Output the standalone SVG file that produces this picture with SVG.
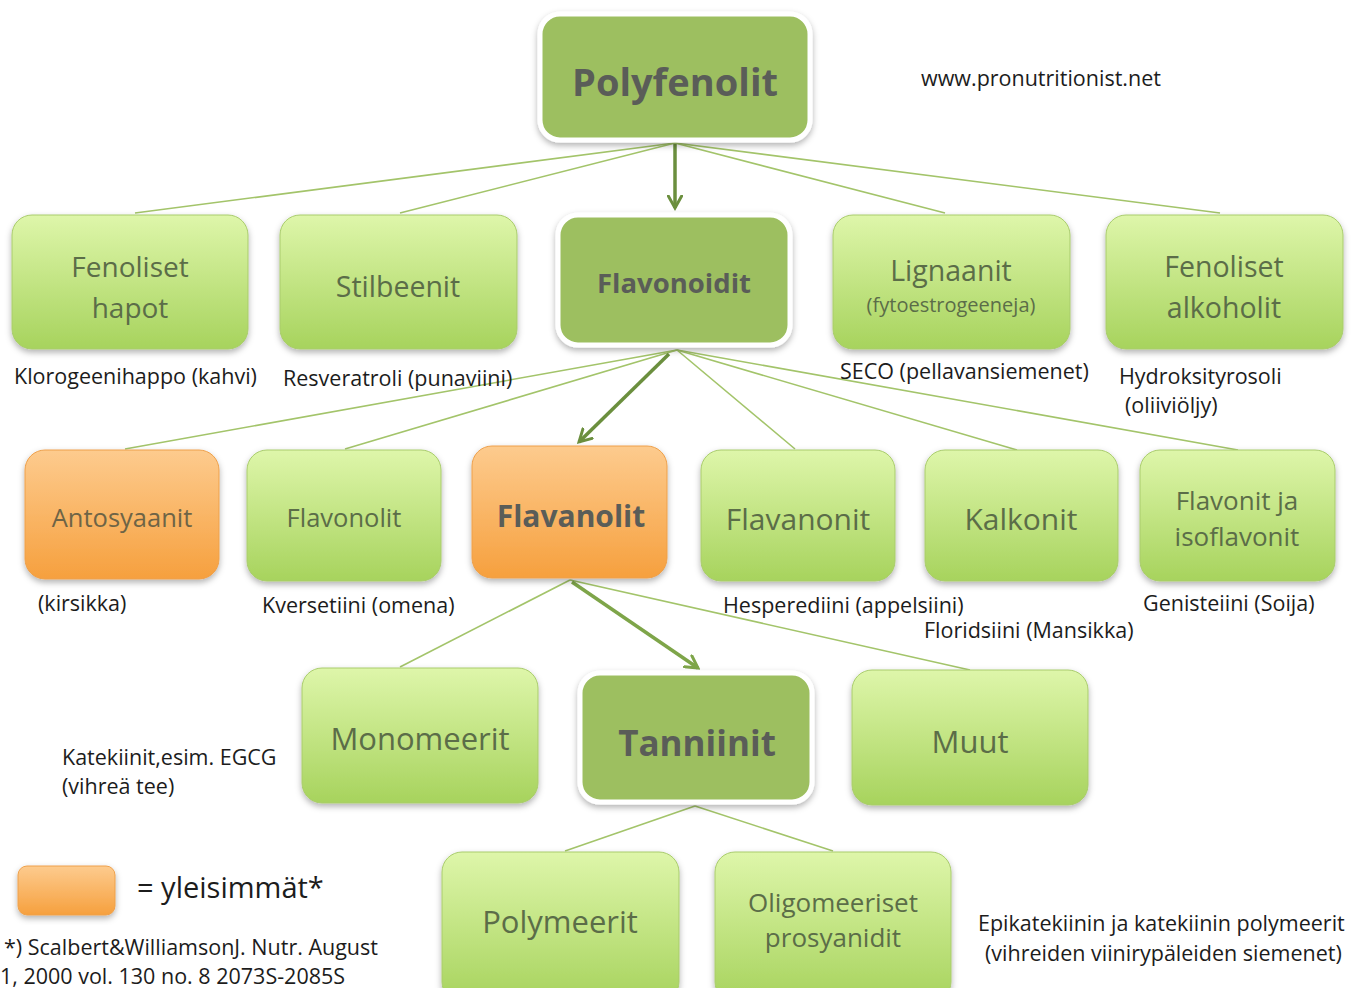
<svg xmlns="http://www.w3.org/2000/svg" width="1357" height="988" viewBox="0 0 1357 988">
<defs>
<linearGradient id="gLight" x1="0" y1="0" x2="0" y2="1">
<stop offset="0" stop-color="#def6aa"/>
<stop offset="1" stop-color="#a7d35d"/>
</linearGradient>
<linearGradient id="gOrange" x1="0" y1="0" x2="0" y2="1">
<stop offset="0" stop-color="#fdcb8e"/>
<stop offset="1" stop-color="#f6a03e"/>
</linearGradient>
<filter id="sh" x="-10%" y="-10%" width="120%" height="130%">
<feDropShadow dx="0" dy="3" stdDeviation="3" flood-color="#000" flood-opacity="0.3"/>
</filter>
<marker id="arr" viewBox="0 0 12 12" refX="10" refY="6" markerWidth="16" markerHeight="16" markerUnits="userSpaceOnUse" orient="auto">
<path d="M1,1 L10,6 L1,11" fill="none" stroke="#6b8f3e" stroke-width="2.2" stroke-linecap="round"/>
</marker>
<marker id="arr2" viewBox="0 0 12 12" refX="10" refY="6" markerWidth="16" markerHeight="16" markerUnits="userSpaceOnUse" orient="auto">
<path d="M1,1 L10,6 L1,11" fill="none" stroke="#7ea549" stroke-width="2.2" stroke-linecap="round"/>
</marker>
</defs>
<style>
.light{fill:url(#gLight);stroke:#a9cc6c;stroke-width:1;filter:url(#sh)}
.orange{fill:url(#gOrange);stroke:#eea04a;stroke-width:1;filter:url(#sh)}
.dark{fill:#9dbf60;stroke:#ffffff;stroke-width:5;filter:url(#sh)}
.lt{font-family:"Open Sans","Noto Sans","DejaVu Sans",sans-serif;fill:#5b6d48;text-anchor:middle}
.bt{font-family:"Open Sans","Noto Sans","DejaVu Sans",sans-serif;font-weight:bold;fill:#5a5d58;text-anchor:middle}
.ot{font-family:"Open Sans","Noto Sans","DejaVu Sans",sans-serif;fill:#6e6446;text-anchor:middle}
.ann{font-family:"Open Sans","Noto Sans","DejaVu Sans",sans-serif;font-size:21.5px;fill:#1c1c1c}
.con{stroke:#a3c46a;stroke-width:1.6;fill:none}
.arrow{stroke:#6b8f3e;stroke-width:3.5;fill:none;marker-end:url(#arr)}
.arrow2{stroke:#7ea549;stroke-width:3.5;fill:none;marker-end:url(#arr2)}
</style>
<rect width="1357" height="988" fill="#ffffff"/>

<g id="connectors">
<line class="con" x1="675" y1="143" x2="135" y2="213"/>
<line class="con" x1="675" y1="143" x2="400" y2="213"/>
<line class="con" x1="675" y1="143" x2="945" y2="213"/>
<line class="con" x1="675" y1="143" x2="1220" y2="213"/>
<line class="arrow" x1="675" y1="144" x2="675" y2="208"/>
<line class="con" x1="677" y1="350" x2="125" y2="449"/>
<line class="con" x1="677" y1="350" x2="345" y2="449"/>
<line class="con" x1="677" y1="350" x2="795" y2="449"/>
<line class="con" x1="677" y1="350" x2="1017" y2="450"/>
<line class="con" x1="677" y1="350" x2="1238" y2="450"/>
<line class="arrow" x1="669" y1="354" x2="579" y2="442"/>
<line class="con" x1="570" y1="580" x2="400" y2="667"/>
<line class="con" x1="570" y1="580" x2="970" y2="670"/>
<line class="arrow2" x1="572" y1="582" x2="698" y2="668"/>
<line class="con" x1="695" y1="806" x2="565" y2="851"/>
<line class="con" x1="695" y1="806" x2="833" y2="851"/>
</g>

<g id="polyfenolit">
<rect class="dark" x="540" y="14" width="270" height="126" rx="20"/>
<text class="bt" x="675" y="96" font-size="38">Polyfenolit</text>
</g>

<g id="fenoliset-hapot">
<rect class="light" x="12" y="215" width="236" height="134" rx="20"/>
<text class="lt" x="130" y="277" font-size="28">Fenoliset</text>
<text class="lt" x="130" y="318" font-size="28">hapot</text>
</g>
<g id="stilbeenit">
<rect class="light" x="280" y="215" width="237" height="134" rx="20"/>
<text class="lt" x="398" y="297" font-size="28.5">Stilbeenit</text>
</g>
<g id="flavonoidit">
<rect class="dark" x="558" y="215" width="232" height="130" rx="20"/>
<text class="bt" x="674" y="293" font-size="27.5">Flavonoidit</text>
</g>
<g id="lignaanit">
<rect class="light" x="833" y="215" width="237" height="134" rx="20"/>
<text class="lt" x="951" y="281" font-size="28.5">Lignaanit</text>
<text class="lt" x="951" y="312" font-size="20">(fytoestrogeeneja)</text>
</g>
<g id="fenoliset-alkoholit">
<rect class="light" x="1106" y="215" width="237" height="134" rx="20"/>
<text class="lt" x="1224" y="277" font-size="28.5">Fenoliset</text>
<text class="lt" x="1224" y="318" font-size="28.5">alkoholit</text>
</g>

<g id="notes-row2">
<text class="ann" x="14" y="384">Klorogeenihappo (kahvi)</text>
<text class="ann" x="283" y="386">Resveratroli (punaviini)</text>
<text class="ann" x="840" y="379">SECO (pellavansiemenet)</text>
<text class="ann" x="1119" y="384">Hydroksityrosoli</text>
<text class="ann" x="1125" y="413">(oliiviöljy)</text>
</g>

<g id="antosyaanit">
<rect class="orange" x="25" y="450" width="194" height="129" rx="20"/>
<text class="ot" x="122" y="527" font-size="25.5">Antosyaanit</text>
</g>
<g id="flavonolit">
<rect class="light" x="247" y="450" width="194" height="131" rx="20"/>
<text class="lt" x="344" y="527" font-size="25.5">Flavonolit</text>
</g>
<g id="flavanolit">
<rect class="orange" x="472" y="446" width="195" height="132" rx="20"/>
<text class="bt" x="571" y="527" font-size="30">Flavanolit</text>
</g>
<g id="flavanonit">
<rect class="light" x="701" y="450" width="194" height="131" rx="20"/>
<text class="lt" x="798" y="530" font-size="30">Flavanonit</text>
</g>
<g id="kalkonit">
<rect class="light" x="925" y="450" width="193" height="131" rx="20"/>
<text class="lt" x="1021" y="530" font-size="30">Kalkonit</text>
</g>
<g id="flavonit">
<rect class="light" x="1140" y="450" width="195" height="131" rx="20"/>
<text class="lt" x="1237" y="510" font-size="26">Flavonit ja</text>
<text class="lt" x="1237" y="546" font-size="26">isoflavonit</text>
</g>

<g id="notes-row3">
<text class="ann" x="38" y="611">(kirsikka)</text>
<text class="ann" x="262" y="613">Kversetiini (omena)</text>
<text class="ann" x="723" y="613">Hesperediini (appelsiini)</text>
<text class="ann" x="924" y="638">Floridsiini (Mansikka)</text>
<text class="ann" x="1143" y="611">Genisteiini (Soija)</text>
</g>

<g id="monomeerit">
<rect class="light" x="302" y="668" width="236" height="135" rx="20"/>
<text class="lt" x="420" y="750" font-size="31">Monomeerit</text>
</g>
<g id="tanniinit">
<rect class="dark" x="580" y="673" width="232" height="129" rx="20"/>
<text class="bt" x="697" y="756" font-size="35">Tanniinit</text>
</g>
<g id="muut">
<rect class="light" x="852" y="670" width="236" height="135" rx="20"/>
<text class="lt" x="970" y="753" font-size="31">Muut</text>
</g>

<g id="notes-row4">
<text class="ann" x="62" y="765">Katekiinit,esim. EGCG</text>
<text class="ann" x="62" y="794">(vihreä tee)</text>
</g>

<g id="polymeerit">
<rect class="light" x="442" y="852" width="237" height="150" rx="20"/>
<text class="lt" x="560" y="933" font-size="31">Polymeerit</text>
</g>
<g id="oligomeeriset">
<rect class="light" x="715" y="852" width="236" height="150" rx="20"/>
<text class="lt" x="833" y="912" font-size="26">Oligomeeriset</text>
<text class="lt" x="833" y="947" font-size="26">prosyanidit</text>
</g>

<g id="legend">
<rect class="orange" x="18" y="866" width="97" height="49" rx="9"/>
<text class="ann" x="137" y="898" style="font-size:29px">= yleisimmät*</text>
<text class="ann" x="4" y="955">*) Scalbert&amp;WilliamsonJ. Nutr. August</text>
<text class="ann" x="0" y="984">1, 2000 vol. 130 no. 8 2073S-2085S</text>
</g>

<g id="notes-row5">
<text class="ann" x="978" y="931">Epikatekiinin ja katekiinin polymeerit</text>
<text class="ann" x="985" y="961">(vihreiden viinirypäleiden siemenet)</text>
</g>

<text class="ann" x="921" y="86">www.pronutritionist.net</text>
</svg>
